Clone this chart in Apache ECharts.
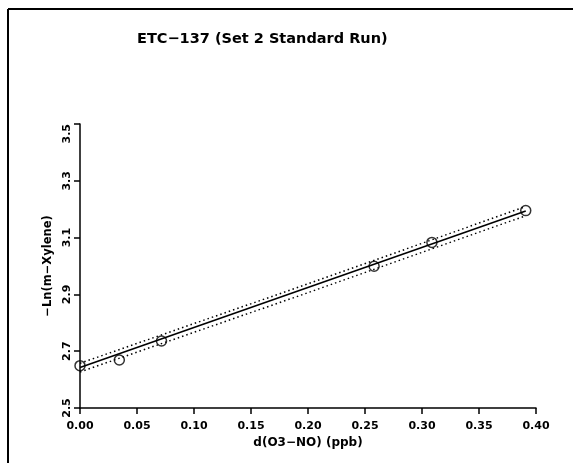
<!DOCTYPE html>
<html>
<head>
<meta charset="utf-8">
<script src="https://cdn.jsdelivr.net/npm/echarts@6/dist/echarts.min.js"></script>
<style>html,body{margin:0;padding:0;background:#fff;}#c{width:573px;height:463px;}</style>
</head>
<body>
<div id="c"></div>
<script>
var titleText = 'ETC\u2212137 (Set 2 Standard Run)';
var xName = 'd(O3\u2212NO) (ppb)';
var yName = '\u2212Ln(m\u2212Xylene)';
var xTicks = [0.00, 0.05, 0.10, 0.15, 0.20, 0.25, 0.30, 0.35, 0.40];
var yTicks = [2.5, 2.7, 2.9, 3.1, 3.3, 3.5];
var pointX = [0.000, 0.0345, 0.0715, 0.258, 0.3087, 0.3910];
var pointY = [2.649, 2.669, 2.736, 2.999, 3.083, 3.195];
var fitX = [0.000, 0.3910];
var fitY = [2.6425, 3.1935];
var bandX = [0.000, 0.190, 0.3910];
var upperY = [2.6575, 2.9230, 3.2095];
var lowerY = [2.6270, 2.8920, 3.1770];

function pairs(xs, ys){ return xs.map(function(x,i){return [x, ys[i]];}); }

var font = 'DejaVu Sans';
var chart = echarts.init(document.getElementById('c'), null, {renderer:'canvas'});
chart.setOption({
  animation:false,
  backgroundColor:'#fff',
  title:{text:titleText, left:132, top:27, textStyle:{fontFamily:font, fontSize:14.5, fontWeight:'bold', color:'#000'}},
  grid:{left:80, right:37, top:124, bottom:55, containLabel:false},
  xAxis:{type:'value', min:xTicks[0], max:xTicks[xTicks.length-1], interval:0.05,
    name:xName, nameLocation:'middle', nameGap:29,
    nameTextStyle:{fontFamily:font, fontSize:12, fontWeight:'bold', color:'#000'},
    axisLine:{onZero:false, lineStyle:{color:'#000', width:1.5}},
    axisTick:{inside:false, length:6, lineStyle:{color:'#000', width:1.5}},
    axisLabel:{margin:13, fontFamily:font, fontSize:11, fontWeight:'bold', color:'#000',
      formatter:function(v){return v.toFixed(2);}},
    splitLine:{show:false}},
  yAxis:{type:'value', min:yTicks[0], max:yTicks[yTicks.length-1], interval:0.2,
    name:yName, nameLocation:'middle', nameGap:11, nameRotate:90,
    nameTextStyle:{fontFamily:font, fontSize:11.5, fontWeight:'bold', color:'#000'},
    axisLine:{onZero:false, lineStyle:{color:'#000', width:1.5}},
    axisTick:{inside:false, length:6, lineStyle:{color:'#000', width:1.5}},
    axisLabel:{margin:7, rotate:90, fontFamily:font, fontSize:11, fontWeight:'bold', color:'#000',
      alignMaxLabel:'right',
      formatter:function(v){return v.toFixed(1);}},
    splitLine:{show:false}},
  series:[
    {type:'line', data:pairs(fitX, fitY), showSymbol:false, lineStyle:{color:'#000', width:1.6}, z:3},
    {type:'line', data:pairs(bandX, upperY), showSymbol:false, lineStyle:{color:'#000', width:1.5, type:[1.5,3]}, z:2},
    {type:'line', data:pairs(bandX, lowerY), showSymbol:false, lineStyle:{color:'#000', width:1.5, type:[1.5,3]}, z:2},
    {type:'scatter', data:pairs(pointX, pointY), symbol:'circle', symbolSize:10,
      itemStyle:{color:'rgba(0,0,0,0)', borderColor:'#000', borderWidth:1.5}, z:4}
  ],
  graphic:[
    {type:'line', shape:{x1:8, y1:9, x2:573, y2:9}, style:{stroke:'#000', lineWidth:2}},
    {type:'line', shape:{x1:8, y1:9, x2:8, y2:463}, style:{stroke:'#000', lineWidth:2}}
  ]
});
</script>
</body>
</html>
